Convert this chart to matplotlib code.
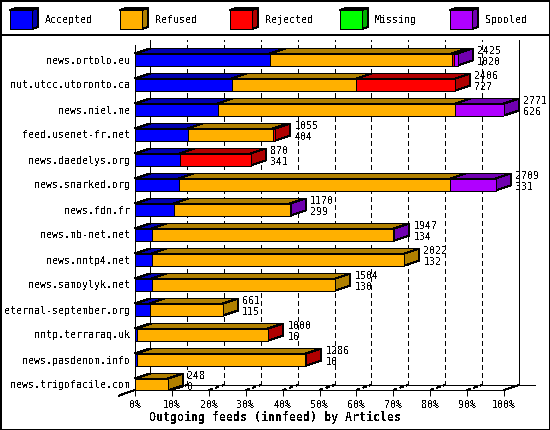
import matplotlib
matplotlib.use('Agg')
import matplotlib.pyplot as plt
import matplotlib.patches as patches
import numpy as np

# percent of the biggest feed
feeds = ['news.ortolo.eu', 'nut.utcc.utoronto.ca', 'news.niel.me', 'feed.usenet-fr.net',
         'news.daedelys.org', 'news.snarked.org', 'news.fdn.fr', 'news.mb-net.net',
         'news.nntp4.net', 'news.samoylyk.net', 'eternal-september.org', 'nntp.terraraq.uk',
         'news.pasdenom.info', 'news.trigofacile.com']
accepted = [36.6, 26.2, 22.4, 14.3, 12.1, 11.8, 10.5, 4.5, 4.5, 4.5, 4.0, 0.5, 0.5, 0.0]
refused = [49.3, 33.8, 64.4, 23.0, 0.0, 73.7, 31.5, 65.5, 68.47, 49.8, 19.85, 35.5, 45.7, 8.95]
rejected = [0.5, 26.8, 0.0, 0.77, 19.3, 0.0, 0.0, 0.0, 0.0, 0.0, 0.0, 0.09, 0.21, 0.0]
missing = [0.0] * 14
spooled = [1.1, 0.0, 13.2, 0.0, 0.0, 12.26, 0.22, 0.26, 0.0, 0.0, 0.0, 0.0, 0.0, 0.0]
totals = [2425, 2406, 2771, 1055, 870, 2709, 1170, 1947, 2022, 1504, 661, 1000, 1286, 248]
seconds = [1020, 727, 626, 404, 341, 331, 299, 134, 132, 130, 115, 16, 16, 0]
names = ['Accepted', 'Refused', 'Rejected', 'Missing', 'Spooled']
fronts = ['#0000FF', '#FFB000', '#FF0000', '#00FF00', '#B000FF']
darks = ['#0000B0', '#B08000', '#B00000', '#00B000', '#7000B0']
ticks = list(range(0, 101, 10))

W, H = 550, 430
LW = 0.72  # one pixel
plt.rcParams['font.family'] = 'DejaVu Sans Mono'
plt.rcParams['font.size'] = 7.2
plt.rcParams['text.antialiased'] = False

fig = plt.figure(figsize=(W / 100, H / 100), dpi=100, facecolor='white')

# page furniture in pixel coordinates
page = fig.add_axes([0, 0, 1, 1])
page.set_xlim(0, W)
page.set_ylim(H, 0)
page.axis('off')
page.add_patch(patches.Rectangle((0.5, 0.5), W - 1, H - 1, fc='none', ec='black', lw=1.44, antialiased=False))
page.plot([0, W], [35, 35], color='black', lw=1.44, antialiased=False)

for i, name in enumerate(names):
    x = 10 + 110 * i
    page.add_patch(patches.Polygon([(x, 10), (x + 6, 8), (x + 28, 8), (x + 22, 10)], fc=darks[i], ec='black', lw=LW, antialiased=False))
    page.add_patch(patches.Polygon([(x + 22, 10), (x + 28, 8), (x + 28, 27), (x + 22, 29)], fc=darks[i], ec='black', lw=LW, antialiased=False))
    page.add_patch(patches.Rectangle((x, 10), 22, 19, fc=fronts[i], ec='black', lw=LW, antialiased=False))
    page.text(x + 35, 20, name, ha='left', va='center')

# plot area: front plane runs 135..504 px in x, rows are 25 px apart
left_px, right_px, top_px, bottom_px = 135, 504, 40, 390
ax = fig.add_axes([left_px / W, 1 - bottom_px / H, (right_px - left_px) / W, (bottom_px - top_px) / H])
ax.patch.set_alpha(0)
ax.set_xlim(0, 100)
ax.set_ylim(13.22, -0.78)

depth_x = 15 / 3.69
depth_y = 5 / 25
bar_h = 0.48
rows = np.arange(len(feeds))

for s in ['top', 'right']:
    ax.spines[s].set_visible(False)
ax.spines['left'].set_bounds(13.22, -0.58)
for s in ['left', 'bottom']:
    ax.spines[s].set_linewidth(LW)
    ax.spines[s].set_antialiased(False)

ax.set_yticks(rows)
ax.set_yticklabels(feeds)
ax.set_xticks(ticks)
ax.set_xticklabels(['%d%%' % t for t in ticks])
ax.tick_params(axis='y', length=0, pad=3.6)
ax.tick_params(axis='x', length=4, width=LW, pad=3)

floor_back = 13.22 - depth_y

# back walls, grid and floor
ax.plot([depth_x, depth_x], [floor_back, -0.78], color='black', lw=LW, clip_on=False, zorder=1, antialiased=False)
ax.plot([100 + depth_x, 100 + depth_x], [floor_back, -0.78], color='black', lw=LW, clip_on=False, zorder=1, antialiased=False)
ax.plot([depth_x, 108.4], [floor_back, floor_back], color='black', lw=LW, clip_on=False, zorder=1, antialiased=False)
ax.plot([-4.3, 0, depth_x], [13.22 + 0.22, 13.22, floor_back], color='black', lw=LW, clip_on=False, zorder=1, antialiased=False)
ax.plot([100, 100 + depth_x], [13.22, floor_back], color='black', lw=LW, clip_on=False, zorder=1, antialiased=False)
for t in ticks[1:-1]:
    ax.plot([t + depth_x, t + depth_x], [floor_back, -0.78], color='black', lw=LW, dashes=(5, 3),
            clip_on=False, zorder=1, antialiased=False)
    ax.plot([t, t + depth_x], [13.22, floor_back], color='black', lw=LW, dashes=(3, 4),
            clip_on=False, zorder=1, antialiased=False)

# stacked bars
series = [accepted, refused, rejected, missing, spooled]
lefts = np.zeros(len(feeds))
for k, vals in enumerate(series):
    vals = np.array(vals)
    ax.barh(rows[vals > 0], vals[vals > 0], left=lefts[vals > 0], height=bar_h, color=fronts[k],
            edgecolor='black', linewidth=LW, zorder=4, antialiased=False)
    for r in rows[vals > 0]:
        x0, x1 = lefts[r], lefts[r] + vals[r]
        y0 = r - bar_h / 2
        ax.add_patch(patches.Polygon([(x0, y0), (x0 + depth_x, y0 - depth_y), (x1 + depth_x, y0 - depth_y), (x1, y0)],
                                     fc=darks[k], ec='black', lw=LW, zorder=3, clip_on=False, antialiased=False))
    lefts = lefts + vals

for r in rows:
    last = max(k for k in range(5) if series[k][r] > 0)
    x1 = lefts[r]
    y0, y1 = r - bar_h / 2, r + bar_h / 2
    ax.add_patch(patches.Polygon([(x1, y0), (x1 + depth_x, y0 - depth_y), (x1 + depth_x, y1 - depth_y), (x1, y1)],
                                 fc=darks[last], ec='black', lw=LW, zorder=3.5, clip_on=False, antialiased=False))
    ax.text(x1 + depth_x + 1.15, r - 0.33, str(totals[r]), ha='left', va='center', zorder=5, clip_on=False)
    ax.text(x1 + depth_x + 1.15, r + 0.11, str(seconds[r]), ha='left', va='center', zorder=5, clip_on=False)

page.text(275, 417, 'Outgoing feeds (innfeed) by Articles', ha='center', va='center', fontweight='bold', fontsize=8.4)

fig.savefig('out.png', dpi=100)
